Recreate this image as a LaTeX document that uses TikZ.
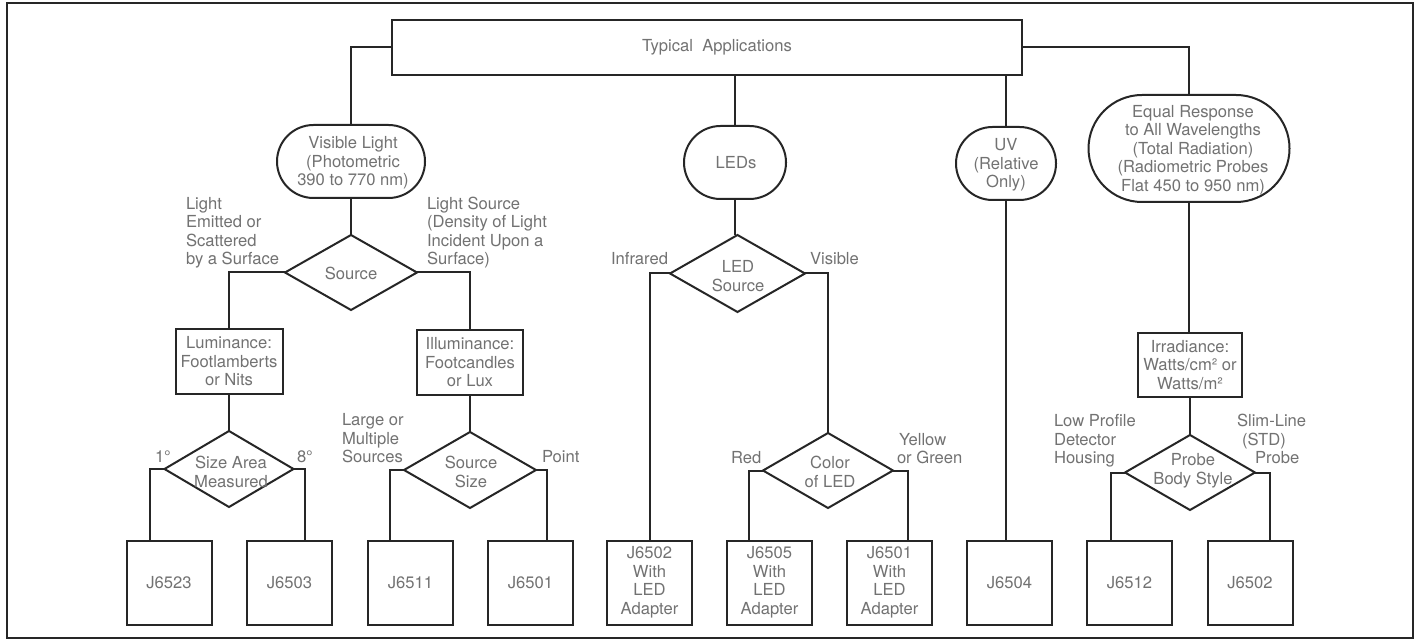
\documentclass[tikz,border=0pt]{standalone}
\usepackage{fontspec}
\setmainfont{TeX Gyre Heros}
\usetikzlibrary{shapes.geometric,shapes.misc,calc}
\definecolor{ink}{HTML}{262626}
\definecolor{txtc}{HTML}{727272}
\begin{document}
\begin{tikzpicture}[x=0.5pt,y=-0.5pt,
  every node/.style={font=\fontsize{8.3}{9.25}\selectfont, text=txtc, inner sep=0pt, outer sep=0pt},
  conn/.style={draw=ink, line width=1pt},
  boxn/.style={draw=ink, line width=1pt, rectangle, align=center},
  prodn/.style={boxn, minimum width=42.5pt, minimum height=42pt},
  ovaln/.style={draw=ink, line width=1pt, rounded rectangle},
  dian/.style={draw=ink, line width=1pt, diamond},
  txt/.style={align=center},
  lbl/.style={align=left, anchor=north west},
]
\useasboundingbox (0,0) rectangle (1417,641);
\fill[white] (0,0) rectangle (1417,641);
\draw[ink, line width=1.2pt] (7,3) rectangle (1413,638);

% top
\node[boxn, minimum width=315pt, minimum height=27.5pt] (tb) at (707,47.5) {\hspace*{10pt}Typical\ \ Applications};

% ovals
\node[ovaln, minimum width=74pt, minimum height=36.5pt] (vis) at (351,161.5) {};
\node[txt] (vist) at (353,163) {Visible Light\\(Photometric\\390 to 770 nm)};
\node[ovaln, minimum width=51pt, minimum height=36.5pt] (leds) at (735,162.5) {};
\node[txt] (ledst) at (736,163) {LEDs};
\node[ovaln, minimum width=50pt, minimum height=36.5pt] (uv) at (1006,163.5) {};
\node[txt] (uvt) at (1006,165) {UV\\(Relative\\Only)};
\node[ovaln, minimum width=100.5pt, minimum height=53.5pt] (eq) at (1189,148.5) {};
\node[txt] (eqt) at (1193,150) {Equal Response\\to All Wavelengths\\(Total Radiation)\\(Radiometric Probes\\Flat 450 to 950 nm)};

% diamonds
\node[dian, minimum width=66pt, minimum height=37.5pt] (src) at (351,272.5) {};
\node[txt] (srct) at (351,273) {Source};
\node[dian, minimum width=67.5pt, minimum height=38.5pt] (leddia) at (737.5,273.5) {};
\node[txt] (leddiat) at (738,276) {LED\\Source};
\node[dian, minimum width=64.5pt, minimum height=38pt] (sam) at (229,469) {};
\node[txt] (samt) at (231,472) {Size Area\\Measured};
\node[dian, minimum width=66pt, minimum height=38pt] (ssz) at (470,470) {};
\node[txt] (sszt) at (471,472) {Source\\Size};
\node[dian, minimum width=65pt, minimum height=37.5pt] (col) at (828,470.5) {};
\node[txt] (colt) at (830,472) {Color\\of LED};
\node[dian, minimum width=65pt, minimum height=37.5pt] (pbs) at (1190,472.5) {};
\node[txt] (pbst) at (1193,471) {Probe\\Body Style};

% middle boxes
\node[boxn, minimum width=53.5pt, minimum height=32.5pt] (lum) at (229,361.5) {Luminance:\\Footlamberts\\or Nits};
\node[boxn, minimum width=53pt, minimum height=32.5pt] (ill) at (470,362.5) {Illuminance:\\Footcandles\\or Lux};
\node[boxn, minimum width=52pt, minimum height=32pt] (irr) at (1190,365) {Irradiance:\\Watts/cm² or\\Watts/m²};

% product boxes
\node[prodn] (j6523) at (169,582.5) {J6523};
\node[prodn] (j6503) at (289.5,582.5) {J6503};
\node[prodn] (j6511) at (410.5,582.5) {J6511};
\node[prodn] (j6501) at (530.5,582.5) {J6501};
\node[prodn] (j6502) at (649.5,582.5) {J6502\\With\\LED\\Adapter};
\node[prodn] (j6505) at (769.5,582.5) {J6505\\With\\LED\\Adapter};
\node[prodn] (j6501b) at (889.5,582.5) {J6501\\With\\LED\\Adapter};
\node[prodn] (j6504) at (1009.5,582.5) {J6504};
\node[prodn] (j6512) at (1129.5,582.5) {J6512};
\node[prodn] (j6502b) at (1250,582.5) {J6502};

% labels
\node[lbl] (l1) at (186,197) {Light\\Emitted or\\Scattered\\by a Surface};
\node[lbl] (l2) at (427,197) {Light Source\\(Density of Light\\Incident Upon a\\Surface)};
\node[anchor=base west] (l3) at (155,462) {1°};
\node[anchor=base west] (l4) at (297,462) {8°};
\node[lbl] (l5) at (342,413.5) {Large or\\Multiple\\Sources};
\node[anchor=base west] (l6) at (542,462) {Point};
\node[anchor=base east] (l7) at (668,265) {Infrared};
\node[anchor=base west] (l8) at (810,265) {Visible};
\node[anchor=base west] (l9) at (731,463) {Red};
\node[lbl] (l10) at (897,433) {\hspace*{1pt}Yellow\\or Green};
\node[lbl] (l11) at (1054,414.5) {Low Profile\\Detector\\Housing};
\node[lbl] (l12) at (1237,414.5) {Slim-Line\\\hspace*{2.5pt}(STD)\\\hspace*{9pt}Probe};

% connectors
\draw[conn] (tb.west) -| (vis.north);
\draw[conn] (tb.east) -| (eq.north);
\draw[conn] (leds.north |- tb.south) -- (leds.north);
\draw[conn] (uv.north |- tb.south) -- (uv.north);
\draw[conn] (vis.south) -- (src.north);
\draw[conn] (src.west) -| (lum.north);
\draw[conn] (src.east) -| (ill.north);
\draw[conn] (lum.south) -- (sam.north);
\draw[conn] (ill.south) -- (ssz.north);
\draw[conn] (sam.west) -| ($(j6523.north)+(-19,0)$);
\draw[conn] (sam.east) -| ($(j6503.north)+(15.5,0)$);
\draw[conn] (ssz.west) -| ($(j6511.north)+(-20.5,0)$);
\draw[conn] (ssz.east) -| ($(j6501.north)+(16.5,0)$);
\draw[conn] (leds.south) -- (leds.south |- leddia.north);
\draw[conn] (leddia.west) -| (j6502.north);
\draw[conn] (leddia.east) -| (col.north);
\draw[conn] (col.west) -| ($(j6505.north)+(-20.5,0)$);
\draw[conn] (col.east) -| ($(j6501b.north)+(18.5,0)$);
\draw[conn] (uv.south) -- (uv.south |- j6504.north);
\draw[conn] (eq.south) -- (eq.south |- irr.north);
\draw[conn] (irr.south) -- (pbs.north);
\draw[conn] (pbs.west) -| ($(j6512.north)+(-18.5,0)$);
\draw[conn] (pbs.east) -| ($(j6502b.north)+(20,0)$);
\end{tikzpicture}
\end{document}
